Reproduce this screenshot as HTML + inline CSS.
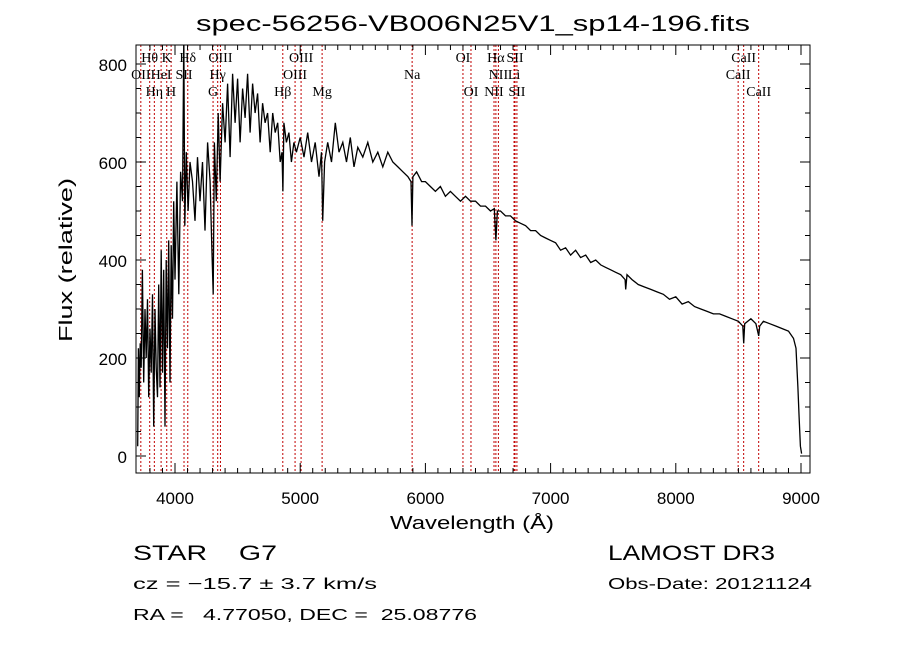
<!DOCTYPE html>
<html><head><meta charset="utf-8"><style>
body{margin:0;background:#fff;width:900px;height:649px;overflow:hidden}
text{font-family:"Liberation Sans",sans-serif;fill:#000;white-space:pre}
.lab{font-family:"Liberation Serif",serif;font-size:14px}
</style></head><body>
<svg id="chart" width="900" height="649" viewBox="0 0 900 649" xml:space="preserve">
<defs><clipPath id="clip"><rect x="136" y="45" width="674" height="428"/></clipPath></defs>
<text x="196" y="31" font-size="22" textLength="554" lengthAdjust="spacingAndGlyphs">spec-56256-VB006N25V1_sp14-196.fits</text>
<g id="lines" clip-path="url(#clip)"></g>
<g id="labels"></g>
<path id="spec" fill="none" stroke="#000" stroke-width="1.3" clip-path="url(#clip)"/>
<rect x="136" y="45" width="674" height="428" fill="none" stroke="#000" stroke-width="1"/>
<g id="axes"></g>
<text x="390" y="529" font-size="18" textLength="164" lengthAdjust="spacingAndGlyphs">Wavelength (Å)</text>
<text transform="translate(72,342) rotate(-90)" font-size="18" textLength="164" lengthAdjust="spacingAndGlyphs">Flux (relative)</text>
<text x="133" y="560" font-size="21" textLength="144" lengthAdjust="spacingAndGlyphs">STAR    G7</text>
<text x="608" y="560" font-size="21" textLength="167" lengthAdjust="spacingAndGlyphs">LAMOST DR3</text>
<text x="133" y="589" font-size="16" textLength="244" lengthAdjust="spacingAndGlyphs">cz = −15.7 ± 3.7 km/s</text>
<text x="608" y="589" font-size="16" textLength="204" lengthAdjust="spacingAndGlyphs">Obs-Date: 20121124</text>
<text x="133" y="620" font-size="16" textLength="344" lengthAdjust="spacingAndGlyphs">RA =   4.77050, DEC =  25.08776</text>
</svg>
<script>
const wave=[3702,3708,3715,3722,3730,3740,3750,3760,3770,3780,3790,3800,3810,3820,3830,3840,3850,3860,3870,3880,3890,3900,3910,3920,3930,3940,3950,3960,3970,3980,3990,4000,4015,4030,4045,4060,4070,4078,4090,4105,4120,4140,4160,4180,4200,4220,4240,4260,4280,4295,4305,4315,4330,4345,4360,4380,4400,4420,4440,4460,4480,4500,4520,4540,4560,4580,4600,4620,4640,4660,4680,4700,4720,4740,4760,4780,4800,4820,4840,4855,4862,4870,4890,4910,4930,4950,4970,5000,5030,5060,5090,5120,5150,5170,5180,5195,5220,5250,5280,5310,5340,5370,5400,5430,5460,5500,5540,5580,5620,5660,5700,5740,5780,5820,5860,5885,5893,5900,5930,5970,6000,6040,6080,6120,6160,6200,6240,6280,6320,6360,6400,6440,6480,6520,6550,6563,6575,6600,6640,6680,6720,6760,6800,6840,6880,6920,6960,7000,7040,7080,7120,7160,7200,7240,7280,7320,7360,7400,7440,7480,7520,7560,7595,7600,7610,7650,7700,7750,7800,7850,7900,7950,8000,8050,8100,8150,8200,8250,8300,8350,8400,8450,8500,8535,8542,8550,8600,8640,8662,8670,8700,8750,8800,8850,8900,8940,8960,8975,8985,8995,9005];
const flux=[20,220,120,230,180,380,150,300,200,320,120,260,170,330,60,300,180,120,350,140,420,170,380,60,400,220,440,150,430,280,520,360,560,330,580,520,860,470,620,500,600,560,480,610,520,600,460,640,560,420,330,640,520,700,560,720,640,760,610,780,680,770,640,750,690,780,660,760,700,740,640,720,680,700,620,700,660,680,600,620,540,680,640,660,600,640,620,650,610,660,600,640,570,620,480,600,640,600,680,620,640,600,650,590,630,610,640,600,620,590,620,600,590,580,570,560,470,570,580,560,560,550,540,550,530,540,530,520,530,520,520,510,510,500,505,440,500,500,490,490,480,475,470,460,460,450,445,440,435,420,425,410,420,405,410,395,400,390,385,380,375,370,360,340,370,360,350,345,340,335,330,320,325,310,315,305,300,295,290,290,285,280,275,265,230,270,280,270,245,265,275,270,265,260,255,240,220,140,80,20,5];
const lineW=[3727,3798,3835,3889,3934,3969,4072,4102,4304,4341,4363,4861,4959,5007,5175,5894,6300,6364,6548,6563,6583,6708,6716,6731,8498,8542,8662];
const lineNames=["OII","Hθ","Hη","HeI","K","H","SII","Hδ","G","Hγ","OIII","Hβ","OIII","OIII","Mg","Na","OI","OI","NII","Hα","NII","Li","SII","SII","CaII","CaII","CaII"];
const lineRows=[1,0,2,1,0,2,1,0,2,1,0,2,1,0,2,1,0,2,2,0,1,1,0,2,1,0,2];
const xTicks=[4000,5000,6000,7000,8000,9000];
const yTicks=[0,200,400,600,800];
const X=w=>175+(w-4000)*0.1252;
const Y=f=>456-f*0.49;
const NS="http://www.w3.org/2000/svg";
function mk(tag,attrs,parent){const e=document.createElementNS(NS,tag);for(const k in attrs)e.setAttribute(k,attrs[k]);parent.appendChild(e);return e;}
let d="";
for(let i=0;i<wave.length;i++){d+=(i?"L":"M")+X(wave[i]).toFixed(1)+","+Y(flux[i]).toFixed(1);}
document.getElementById("spec").setAttribute("d",d);
const gl=document.getElementById("lines"),gt=document.getElementById("labels");
const rowY=[62,79,96];
for(let i=0;i<lineW.length;i++){
  const l=mk("line",{x1:X(lineW[i]),x2:X(lineW[i]),y1:45,y2:473,stroke:"#c00000","stroke-width":1,"stroke-dasharray":"2,2"},gl);
  
  
  const t=mk("text",{x:X(lineW[i]),y:rowY[lineRows[i]],"text-anchor":"middle",class:"lab"},gt);
  t.textContent=lineNames[i];
  
  
}
const ga=document.getElementById("axes");
for(let w=3800;w<=9000;w+=100){const maj=w%1000===0;const x=X(w);
  const a=mk("line",{x1:x,x2:x,y1:473,y2:473-(maj?10:5),stroke:"#000"},ga);
  
  const b=mk("line",{x1:x,x2:x,y1:45,y2:45+(maj?10:5),stroke:"#000"},ga);
  }
for(const w of xTicks){const t=mk("text",{x:X(w),y:504,"text-anchor":"middle","font-size":17},ga);t.textContent=w;
  }
for(let f=-0;f<=800;f+=50){const maj=f%200===0;const y=Y(f);
  const a=mk("line",{x1:136,x2:136+(maj?10:5),y1:y,y2:y,stroke:"#000"},ga);
  
  const b=mk("line",{x1:810,x2:810-(maj?10:5),y1:y,y2:y,stroke:"#000"},ga);
  }
for(const f of yTicks){const t=mk("text",{x:127,y:Y(f)+7,"text-anchor":"end","font-size":17},ga);t.textContent=f;
  }
</script>
</body></html>
